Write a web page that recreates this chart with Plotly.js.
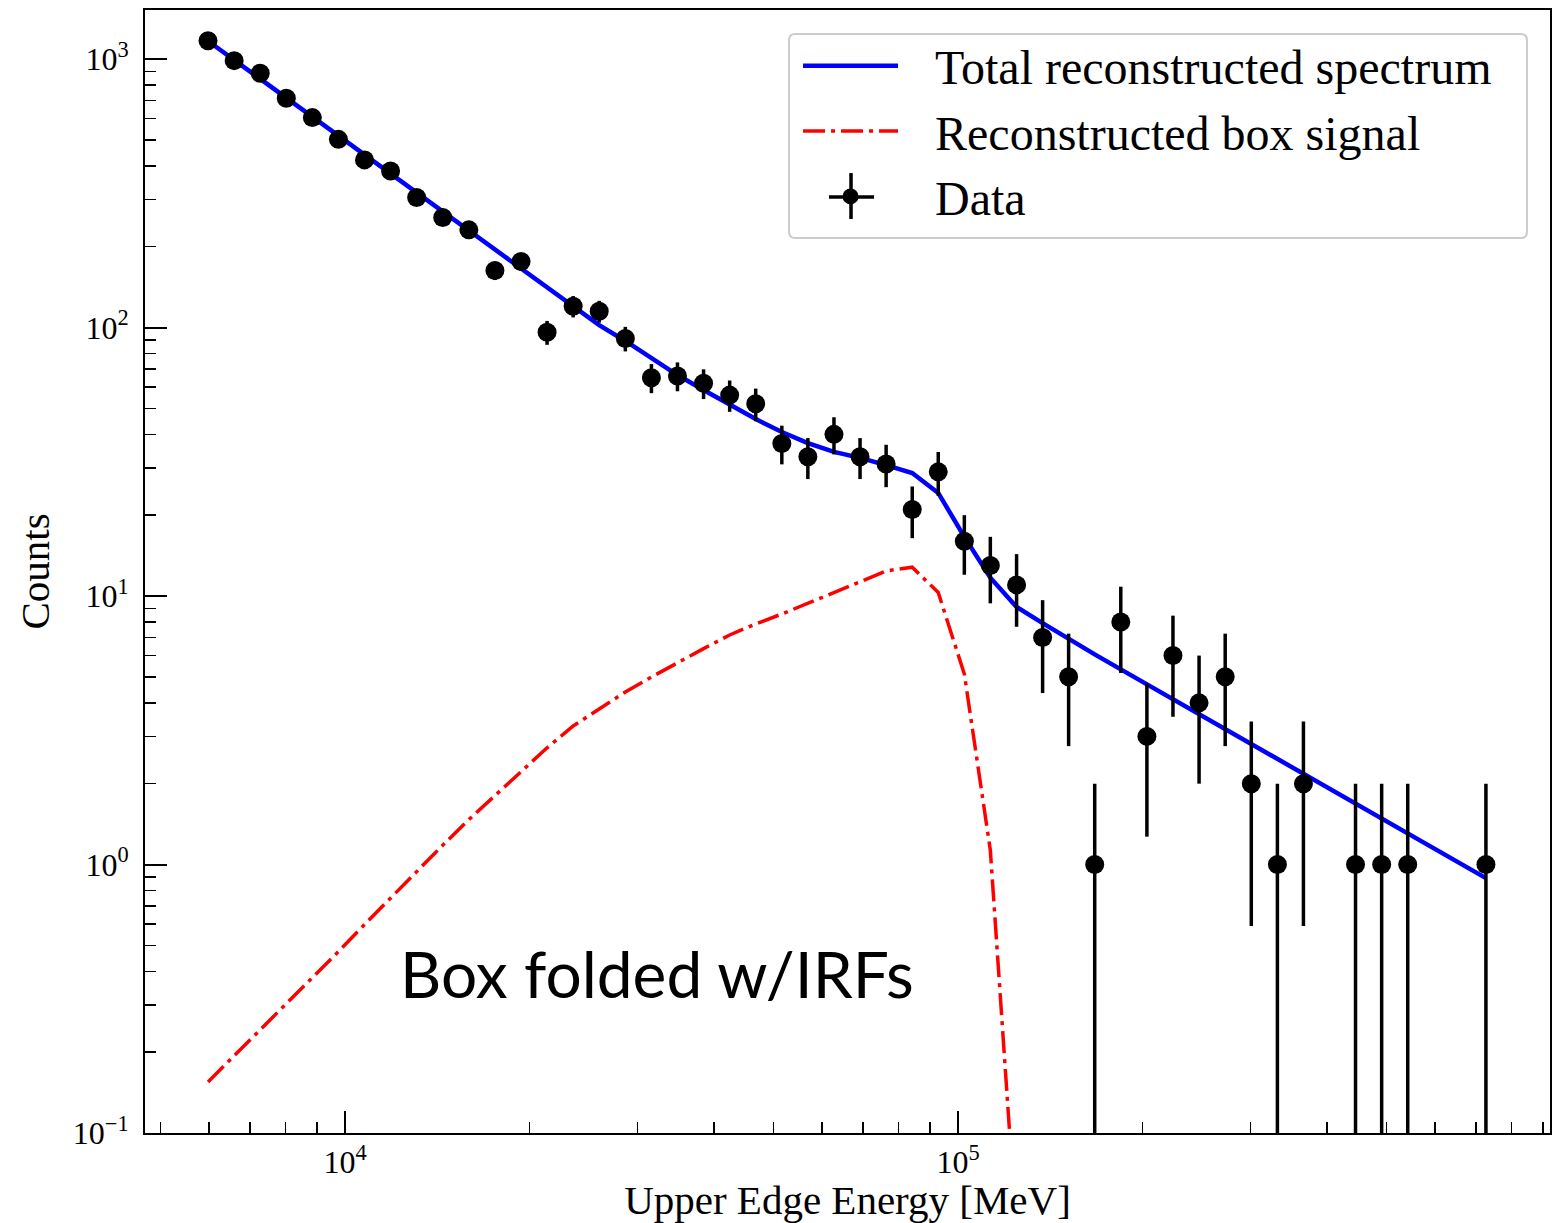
<!DOCTYPE html>
<html>
<head>
<meta charset="utf-8">
<script src="https://cdn.plot.ly/plotly-3.0.1.min.js"></script>
<style>html,body{margin:0;padding:0;background:#fff;}#chart{width:1558px;height:1223px;}</style>
</head>
<body>
<div id="chart"></div>
<script>
// Upper edge energies of the bins [MeV]
const energy = [5977, 6594, 7272, 8021, 8844, 9755, 10760, 11867, 13087, 14434,
  15922, 17560, 19370, 21360, 23560, 25980, 28660, 31610, 34860, 38450,
  42410, 46770, 51590, 56890, 62750, 69210, 76330, 84200, 92840, 102400,
  112900, 124600, 137400, 151500, 167100, 184300, 203300, 224200, 247300, 272800,
  300900, 331900, 366000, 403600, 445100, 491000, 541500, 597200, 658600, 726400];

// Observed counts (null = empty bin, not drawn on log axis)
const counts = [1170, 986, 885, 714, 605, 502, 421, 383, 305, 257,
  231, 163, 176, 96, 120, 115, 91, 65, 66, 62,
  56, 52, 37, 33, 40, 33, 31, 21, 29, 16,
  13, 11, 7, 5, 1, 8, 3, 6, 4, 5,
  2, 1, 2, null, 1, 1, 1, null, null, 1];

// Poisson (sqrt N) error bars
const countErr = [34.21, 31.40, 29.75, 26.72, 24.60, 22.41, 20.52, 19.57, 17.46, 16.03,
  15.20, 12.77, 13.27, 9.80, 10.95, 10.72, 9.54, 8.06, 8.12, 7.87,
  7.48, 7.21, 6.08, 5.74, 6.32, 5.74, 5.57, 4.58, 5.39, 4.00,
  3.61, 3.32, 2.65, 2.24, 1.00, 2.83, 1.73, 2.45, 2.00, 2.24,
  1.41, 1.00, 1.41, null, 1.00, 1.00, 1.00, null, null, 1.00];

// Total reconstructed spectrum (model)
const totalModel = [1167, 991, 842, 716, 608, 517, 439, 373, 317, 269,
  229, 194, 165, 140, 119, 102, 89.1, 77.0, 66.5, 58.5,
  51.4, 45.6, 40.8, 37.1, 34.4, 32.7, 30.7, 28.7, 24.2, 16.6,
  11.7, 9.1, 7.93, 6.92, 6.06, 5.33, 4.69, 4.13, 3.64, 3.20,
  2.82, 2.48, 2.18, 1.92, 1.69, 1.49, 1.31, 1.15, 1.01, 0.89];

// Reconstructed box signal (first 32 bins; beyond falls far below the axis)
const boxEnergy = energy.slice(0, 32);
const boxSignal = [0.155, 0.194, 0.242, 0.302, 0.378, 0.474, 0.598, 0.752, 0.946, 1.18,
  1.47, 1.81, 2.22, 2.72, 3.28, 3.79, 4.39, 4.99, 5.65, 6.37,
  7.16, 7.87, 8.57, 9.42, 10.3, 11.3, 12.4, 12.8, 10.3, 5.12,
  1.13, 0.042];

const seriesNames = ['Total reconstructed spectrum', 'Reconstructed box signal', 'Data'];

const xTickVals = [1e4, 1e5];
const xTickText = ['10<sup>4</sup>', '10<sup>5</sup>'];
const yTickVals = [0.1, 1, 10, 100, 1000];
const yTickText = ['10<sup>\u22121</sup>', '10<sup>0</sup>', '10<sup>1</sup>', '10<sup>2</sup>', '10<sup>3</sup>'];

const serif = 'Liberation Serif, Times New Roman, serif';
const gap = '\u2002\u2006'; // space between legend symbol and label

const traces = [
  {
    x: energy, y: totalModel, type: 'scatter', mode: 'lines',
    name: gap + seriesNames[0],
    line: {color: '#0000ff', width: 4.5}
  },
  {
    x: boxEnergy, y: boxSignal, type: 'scatter', mode: 'lines',
    name: gap + seriesNames[1],
    line: {color: '#ff0000', width: 3.5, dash: '22px,6px,4px,6px'}
  },
  {
    x: energy, y: counts, type: 'scatter', mode: 'markers',
    name: gap + seriesNames[2],
    marker: {color: '#000000', size: 19},
    error_y: {type: 'data', array: countErr, visible: true, color: '#000000', thickness: 3.5, width: 0}
  }
];

const axisCommon = {
  type: 'log',
  tickmode: 'array',
  ticks: 'inside', ticklen: 22, tickwidth: 2, tickcolor: '#000',
  showline: true, linewidth: 2, linecolor: '#000', mirror: true,
  showgrid: false, zeroline: false,
  tickfont: {family: serif, size: 32, color: '#000'},
  minor: {ticks: 'inside', ticklen: 11, tickwidth: 1.5, tickcolor: '#000', dtick: 'D1', showgrid: false}
};

// legend frame (rounded) drawn as a paper-referenced shape
const lx0 = 0.4584, lx1 = 0.9836, ly0 = 0.7970, ly1 = 0.9786, rx = 0.0043, ry = 0.0053;
const framePath = 'M' + (lx0 + rx) + ',' + ly1 + ' L' + (lx1 - rx) + ',' + ly1 +
  ' Q' + lx1 + ',' + ly1 + ' ' + lx1 + ',' + (ly1 - ry) +
  ' L' + lx1 + ',' + (ly0 + ry) + ' Q' + lx1 + ',' + ly0 + ' ' + (lx1 - rx) + ',' + ly0 +
  ' L' + (lx0 + rx) + ',' + ly0 + ' Q' + lx0 + ',' + ly0 + ' ' + lx0 + ',' + (ly0 + ry) +
  ' L' + lx0 + ',' + (ly1 - ry) + ' Q' + lx0 + ',' + ly1 + ' ' + (lx0 + rx) + ',' + ly1 + ' Z';

const layout = {
  width: 1558, height: 1223,
  margin: {l: 145, r: 8, t: 10, b: 90},
  paper_bgcolor: '#fff', plot_bgcolor: '#fff',
  showlegend: true,
  xaxis: Object.assign({}, axisCommon, {
    range: [3.6737, 5.9657],
    tickvals: xTickVals, ticktext: xTickText,
    title: {text: 'Upper Edge Energy [MeV]', font: {family: serif, size: 41, color: '#000'}, standoff: 14}
  }),
  yaxis: Object.assign({}, axisCommon, {
    range: [-1, 3.1825],
    tickvals: yTickVals, ticktext: yTickText,
    ticklabelstandoff: 8,
    title: {text: 'Counts', font: {family: serif, size: 41, color: '#000'}, standoff: 10}
  }),
  legend: {
    x: 0.4648, y: 0.984, xanchor: 'left', yanchor: 'top',
    bgcolor: 'rgba(0,0,0,0)', borderwidth: 0,
    font: {family: serif, size: 48, color: '#000'},
    itemwidth: 95
  },
  shapes: [
    {type: 'path', xref: 'paper', yref: 'paper', path: framePath,
     fillcolor: '#ffffff', line: {color: '#cccccc', width: 2}, layer: 'above'},
    // error-bar cross of the Data legend symbol
    {type: 'line', xref: 'paper', yref: 'paper', x0: 0.4868, x1: 0.5189, y0: 0.8335, y1: 0.8335,
     line: {color: '#000', width: 3.5}, layer: 'above'},
    {type: 'line', xref: 'paper', yref: 'paper', x0: 0.5025, x1: 0.5025, y0: 0.8139, y1: 0.8548,
     line: {color: '#000', width: 3.5}, layer: 'above'}
  ],
  annotations: [{
    text: 'Box folded w/IRFs',
    xref: 'x', yref: 'y',
    x: 4.0864, y: -0.405,
    xanchor: 'left', yanchor: 'middle',
    showarrow: false,
    font: {family: 'Lato, sans-serif', size: 64, color: '#000'}
  }]
};

Plotly.newPlot('chart', traces, layout, {displayModeBar: false, staticPlot: true});
</script>
</body>
</html>
